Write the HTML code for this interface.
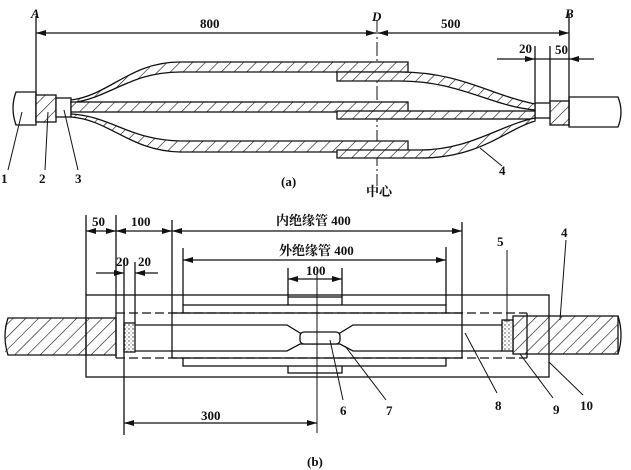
<!DOCTYPE html>
<html><head><meta charset="utf-8"><style>
html,body{margin:0;padding:0;background:#fff}
svg{display:block}
text{font-family:"Liberation Serif","Noto Serif CJK SC",serif;font-size:13px;fill:#111;font-weight:bold}
</style></head><body>
<svg width="631" height="470" viewBox="0 0 631 470" xmlns="http://www.w3.org/2000/svg">
<defs>
<pattern id="h" patternUnits="userSpaceOnUse" width="9" height="9" patternTransform="rotate(45)">
<rect width="9" height="9" fill="#fff"/><line x1="0" y1="0" x2="0" y2="9" stroke="#111" stroke-width="1.2"/></pattern>
<pattern id="d" patternUnits="userSpaceOnUse" width="4" height="4">
<rect width="4" height="4" fill="#fff"/><circle cx="1" cy="1" r="0.7" fill="#333"/><circle cx="3" cy="3" r="0.5" fill="#555"/></pattern>
<marker id="a" markerWidth="10" markerHeight="6" refX="10" refY="3" orient="auto-start-reverse" markerUnits="userSpaceOnUse"><path d="M0,0 L10,3 L0,6z" fill="#111"/></marker>
</defs>
<g stroke="#111" stroke-width="1.3" fill="none">
<line x1="36" y1="16" x2="36" y2="122"/>
<line x1="569" y1="14" x2="569" y2="126"/>
<line x1="377" y1="20" x2="377" y2="186" stroke-dasharray="14,3,2,3" stroke-width="1"/>
<line x1="36" y1="33" x2="376" y2="33" marker-start="url(#a)" marker-end="url(#a)"/>
<line x1="378" y1="33" x2="569" y2="33" marker-start="url(#a)" marker-end="url(#a)"/>
<line x1="535" y1="46" x2="535" y2="104"/>
<line x1="550" y1="46" x2="550" y2="102"/>
<line x1="497" y1="59" x2="535" y2="59" marker-end="url(#a)"/>
<line x1="535" y1="59" x2="569" y2="59"/>
<line x1="594" y1="59" x2="569" y2="59" marker-end="url(#a)"/>
<path d="M36,92 L16,92 Q10,108 16,125 L36,125 Z"/>
<rect x="36" y="95" width="20" height="27" fill="url(#h)"/>
<rect x="56" y="98" width="15" height="19" fill="#fff"/>
<rect x="550" y="101" width="19" height="24" fill="url(#h)"/>
<rect x="535" y="103" width="15" height="15" fill="#fff"/>
<path d="M569,97 L618,97 Q624,112 618,127 L569,127 Z"/>
<path d="M71,100 C110,95 130,62 180,62 L408,62 L408,72 L180,72 C130,72 110,98 71,103 Z" fill="url(#h)"/>
<path d="M337,72 L400,72 C460,72 490,95 535,104 L535,110 C490,106 460,81 400,81 L337,81 Z" fill="url(#h)"/>
<rect x="71" y="102" width="337" height="10" fill="url(#h)"/>
<rect x="337" y="111" width="198" height="8" fill="url(#h)"/>
<path d="M71,114 C110,116 130,140 180,141 L408,141 L408,152 L180,152 C130,151 110,120 71,117 Z" fill="url(#h)"/>
<path d="M337,150 L420,150 C470,150 500,125 535,118 L535,121 C505,130 480,158 420,158 L337,158 Z" fill="url(#h)"/>
<line x1="22" y1="112" x2="8" y2="170" stroke-width="1"/>
<line x1="48" y1="112" x2="45" y2="170" stroke-width="1"/>
<line x1="64" y1="110" x2="78" y2="170" stroke-width="1"/>
<line x1="480" y1="148" x2="502" y2="166" stroke-width="1"/>
<rect x="5" y="318" width="81" height="37" fill="url(#h)" stroke="none"/>
<path d="M86,318 L8,318 Q2,336 8,355 L86,355"/>
<rect x="86" y="318" width="30" height="37" fill="url(#h)"/>
<rect x="513" y="316" width="105" height="38" fill="url(#h)"/>
<path d="M618,316 Q624,335 618,354"/>
<rect x="86" y="295" width="463" height="82"/>
<rect x="288" y="297" width="54" height="76" fill="#fff"/>
<rect x="183" y="305" width="263" height="61" fill="#fff"/>
<rect x="172" y="313" width="290" height="45" fill="#fff"/>
<line x1="116" y1="313" x2="527" y2="313" stroke-dasharray="9,4"/>
<line x1="116" y1="358" x2="527" y2="358" stroke-dasharray="9,4"/>
<line x1="527" y1="313" x2="527" y2="358"/>
<line x1="116" y1="313" x2="116" y2="358"/>
<path d="M135,325 L287,325 L300,333 L340,333 L353,325 L502,325 M135,351 L287,351 L300,344 L340,344 L353,351 L502,351"/>
<rect x="300" y="332" width="40" height="12" rx="4" fill="#fff"/>
<rect x="124" y="323" width="11" height="29" fill="url(#d)"/>
<rect x="502" y="320" width="11" height="31" fill="url(#d)"/>
<line x1="86" y1="215" x2="86" y2="295"/>
<line x1="116" y1="215" x2="116" y2="313"/>
<line x1="172" y1="220" x2="172" y2="313"/>
<line x1="462" y1="222" x2="462" y2="313"/>
<line x1="183" y1="248" x2="183" y2="305"/>
<line x1="446" y1="247" x2="446" y2="305"/>
<line x1="288" y1="268" x2="288" y2="297"/>
<line x1="342" y1="268" x2="342" y2="297"/>
<line x1="124" y1="262" x2="124" y2="435"/>
<line x1="135" y1="262" x2="135" y2="323"/>
<line x1="317" y1="272" x2="317" y2="433" stroke-width="1"/>
<line x1="86" y1="231" x2="116" y2="231" marker-start="url(#a)" marker-end="url(#a)"/>
<line x1="116" y1="231" x2="172" y2="231" marker-start="url(#a)" marker-end="url(#a)"/>
<line x1="172" y1="231" x2="462" y2="231" marker-start="url(#a)" marker-end="url(#a)"/>
<line x1="183" y1="260" x2="446" y2="260" marker-start="url(#a)" marker-end="url(#a)"/>
<line x1="288" y1="279" x2="342" y2="279" marker-start="url(#a)" marker-end="url(#a)"/>
<line x1="96" y1="273" x2="124" y2="273" marker-end="url(#a)"/>
<line x1="158" y1="273" x2="135" y2="273" marker-end="url(#a)"/>
<line x1="124" y1="423" x2="317" y2="423" marker-start="url(#a)" marker-end="url(#a)"/>
<line x1="330" y1="340" x2="343" y2="400" stroke-width="1"/>
<line x1="345" y1="346" x2="386" y2="400" stroke-width="1"/>
<line x1="465" y1="333" x2="497" y2="393" stroke-width="1"/>
<line x1="507" y1="250" x2="507" y2="322" stroke-width="1"/>
<line x1="566" y1="240" x2="560" y2="320" stroke-width="1"/>
<line x1="520" y1="354" x2="553" y2="398" stroke-width="1"/>
<line x1="549" y1="362" x2="583" y2="395" stroke-width="1"/>
</g>
<g font-style="italic"><text x="31" y="18">A</text><text x="372" y="21">D</text><text x="565" y="18">B</text></g>
<text x="200" y="28">800</text><text x="441" y="28">500</text>
<text x="519" y="53">20</text><text x="555" y="54">50</text>
<text x="1" y="183">1</text><text x="39" y="183">2</text><text x="75" y="183">3</text>
<text x="499" y="175">4</text>
<text x="281" y="186" font-size="10">(a)</text>
<text x="366" y="196" font-size="12">中心</text>
<text x="92" y="226">50</text><text x="131" y="226">100</text>
<text x="276" y="225" font-size="12">内绝缘管 400</text>
<text x="279" y="255" font-size="12">外绝缘管 400</text>
<text x="306" y="275">100</text>
<text x="116" y="266">20</text><text x="138" y="266">20</text>
<text x="201" y="420">300</text>
<text x="307" y="466" font-family="Liberation Sans, sans-serif" font-size="12" font-weight="normal">(b)</text>
<text x="497" y="246">5</text><text x="561" y="237">4</text>
<text x="340" y="415">6</text><text x="386" y="415">7</text><text x="495" y="410">8</text>
<text x="553" y="414">9</text><text x="580" y="410">10</text>
</svg>
</body></html>
